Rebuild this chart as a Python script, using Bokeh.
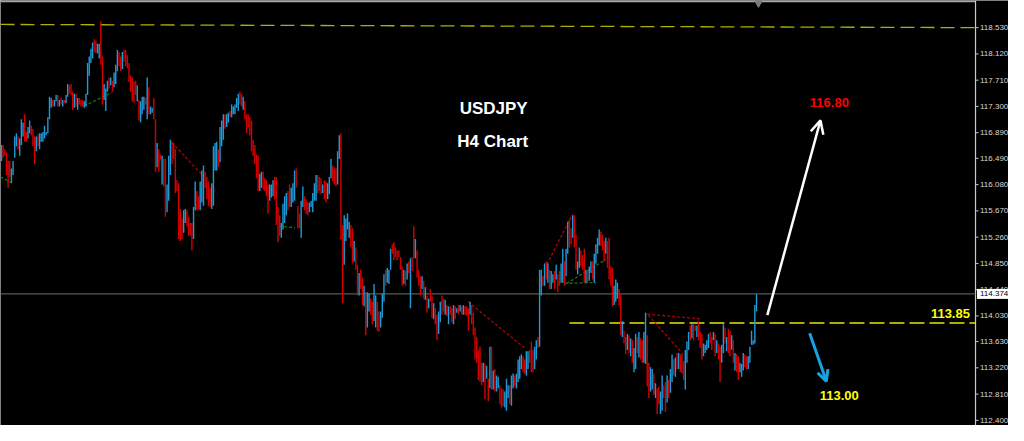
from bokeh.plotting import figure
from bokeh.models import Range1d, Label, Arrow, OpenHead, ColumnDataSource
from bokeh.core.properties import value
from bokeh.embed import file_html
from bokeh.resources import INLINE

# ---------------- data (USDJPY H4 bars: high / low / direction B=bull R=bear) -------------
high_a = [116.70,116.70,116.63,116.58,116.45,116.45,116.33,116.45,116.83,116.88,
          116.83,116.80,117.10,117.05,117.18,116.90,116.98,117.08,117.00,116.95,
          116.83,116.83,116.85,116.88,116.88,116.90,117.00,116.90,117.13,117.45,
          117.43,117.40,117.40,117.48,117.48,117.40,117.43,117.40,117.40,117.48,
          117.65,117.63,117.65,117.53,117.50,117.50,117.43,117.43,117.40,117.40,
          117.38,117.50,117.98,118.08,118.20,118.30,118.35,118.33,118.28,118.28,
          118.63,118.08,117.65,117.58,117.70,117.75,117.75,117.70,117.83,117.95,
          118.18,118.15,118.08,118.15,118.18,118.18,118.10,117.98,117.78,117.75,
          117.68,117.70,117.63,117.40,117.38,117.45,117.45,117.43,117.75,117.60,
          117.30,117.28,117.43,117.10,116.73,116.63,116.55,116.53,116.48,116.48,
          116.08,116.53,116.78,116.75,116.73,116.63,116.15,116.10,115.70,115.55,
          115.68,115.70,115.68,115.58,115.48,115.48,115.73,116.13,115.98,115.90]
low_a = [116.45,116.50,116.53,116.23,116.03,116.20,116.10,116.23,116.50,116.68,
         116.63,116.53,116.70,116.83,116.75,116.75,116.80,116.88,116.85,116.68,
         116.40,116.60,116.68,116.63,116.75,116.75,116.80,116.85,116.88,117.10,
         117.28,117.30,117.30,117.38,117.30,117.30,117.33,117.30,117.35,117.35,
         117.45,117.50,117.48,117.25,117.28,117.30,117.25,117.33,117.30,117.30,
         117.28,117.30,117.48,117.78,117.98,118.05,118.15,118.13,118.13,118.05,
         117.95,117.33,117.40,117.23,117.53,117.58,117.63,117.53,117.60,117.65,
         117.85,117.93,117.85,117.88,118.00,117.93,117.90,117.68,117.53,117.38,
         117.35,117.48,117.38,117.08,117.05,117.18,117.25,117.33,117.10,117.18,
         117.18,117.20,117.10,116.28,116.35,116.28,116.48,116.08,116.05,115.58,
         115.65,115.83,116.23,116.40,116.48,115.95,115.98,115.23,115.20,115.23,
         115.33,115.48,115.43,115.28,115.28,115.05,115.23,115.68,115.68,115.70]
dir_a = ("BRRRRRBBBB" "RBBBRRBBRR" "RBRBBBBBBB" "BRBBRBRBRB" "BRRRBRBRRR" "BBBBBBRRBB"
         "RRBBBRBRBB" "BRRBRRRRRR" "RRBRBBBRBR" "BBRRBRRBRR" "BBBRRRRRRR" "BBRRRRBBRR")

high_b = [116.13,116.30,116.38,116.28,116.20,116.13,116.03,116.10,116.68,116.73,
          116.75,116.63,116.98,117.08,117.18,117.18,117.18,117.20,117.23,117.33,
          117.30,117.33,117.43,117.50,117.53,117.50,117.45,117.38,117.18,117.18,
          117.13,117.08,116.78,116.70,116.55,116.53,116.25,116.28,116.28,116.18,
          116.15,116.08,116.08,116.08,116.15,116.20,116.20,115.73,115.60,115.48,
          115.78,115.90,115.95,115.98,116.08,116.03,116.10,116.30,116.33,115.75,
          115.63,115.83,116.05,115.90,115.85,115.80,115.80,115.83,115.95,116.10,
          116.23,116.23,116.20,116.18,116.08,116.15,116.13,116.10,116.20,116.48,
          116.38,116.35,116.33,116.60,116.85,116.88,115.45]
low_b = [115.68,115.80,115.75,116.03,115.85,115.75,115.73,115.70,115.75,116.30,
         116.30,116.35,116.43,116.68,116.78,116.95,116.98,117.05,117.13,117.13,
         117.18,117.18,117.28,117.23,117.33,117.30,117.25,117.10,116.88,116.98,
         116.85,116.60,116.53,116.40,116.18,115.98,115.98,116.03,116.00,115.98,
         115.90,115.63,115.83,115.88,115.90,115.85,115.45,115.18,115.28,115.25,
         115.38,115.48,115.60,115.68,115.73,115.73,115.80,115.83,116.03,115.40,
         115.40,115.25,115.73,115.68,115.62,115.60,115.65,115.73,115.65,115.83,
         115.83,115.95,115.98,115.93,115.95,115.85,115.80,115.85,115.93,116.18,
         116.13,116.08,116.05,116.08,116.48,115.23,114.23]
dir_b = ("BBBRRRRBBB" "BRBBBRBBRB" "BBBBRRBRRR" "RRRRRRBBRR" "RRBBBRRRRB" "BBBRRBBBRR"
         "RBBRRRBBBB" "BRRRBRRBBB" "RRRBBRR")

high_c = [115.60,115.55,115.63,115.50,115.45,115.40,115.20,115.10,114.83,114.70,
          114.75,114.63,114.50,114.40,114.40,114.38,114.30,114.25,114.53,114.35,
          114.25,114.10,114.10,114.38,114.68,114.75,114.78,114.75,115.08,115.15,
          115.18,115.10,115.05,115.05,114.95,114.80,114.75,114.73,114.85,114.88,
          114.93,114.95,115.43,115.23,115.05,114.75,114.65,114.65,114.58,114.48,
          114.35,114.30,114.45,114.35,114.23,114.15,114.05,114.10,114.25,114.35,
          114.30,114.28,114.20,114.18,114.18,114.15,114.20,114.18,114.15,114.20,
          114.20,114.18,114.20,114.18,114.18,114.15,114.25,114.20,114.08,113.85,
          113.70,113.50,113.55,113.30,113.30,113.28,113.25,113.05,113.55,113.55,
          113.18,113.20,113.10,113.08,112.95,112.90,112.88,112.85,113.05,112.95,
          112.95,113.10,113.13,113.10,113.13,113.35,113.40,113.43,113.40,113.35,
          113.48,113.48,113.50,113.63,113.50,113.55]
low_c = [114.83,115.20,115.38,115.25,115.10,114.85,114.88,114.75,114.35,114.35,
         114.45,114.20,114.18,113.73,113.85,114.10,114.05,113.90,113.95,113.85,
         113.80,113.78,113.85,114.00,114.25,114.50,114.55,114.53,114.75,115.00,
         114.90,114.95,114.90,114.95,114.75,114.50,114.53,114.50,114.60,114.70,
         114.15,114.73,114.93,114.93,114.63,114.50,114.35,114.45,114.30,114.28,
         114.08,114.15,114.25,114.00,113.98,113.90,113.65,113.75,113.93,114.05,
         114.10,114.05,114.03,113.90,114.05,113.93,113.90,113.98,114.08,114.05,
         114.10,114.05,114.05,114.05,114.03,113.80,114.05,113.90,113.73,113.35,
         113.30,113.03,113.00,112.95,113.00,112.73,113.05,112.70,112.90,112.88,
         112.88,112.85,112.85,112.90,112.65,112.60,112.62,112.60,112.55,112.75,
         112.65,112.63,112.90,112.93,112.90,113.00,113.05,113.20,113.15,113.13,
         113.10,113.20,113.30,113.15,113.15,113.20]
dir_c = ("BBBBRRBRRB" "RRBRBBRRBB" "RRBBBRBBBR" "RRRRRRBRBR" "BRRBRRRBRB" "RBRRBRRBBR"
         "RBRBRRBRBR" "BRBRRRBRRR" "RRRRBRBRBR" "BRBBRRRBBB" "RBBRBBBBRR" "BBRRRB")

high_d = [113.65,113.70,114.75,114.75,114.65,114.85,114.88,114.85,114.75,114.73,
          114.68,114.73,114.83,114.68,114.73,114.85,115.08,114.88,115.08,115.50,
          115.53,115.40,115.60,115.60,115.30]
low_d = [113.35,113.53,113.55,114.35,114.50,114.50,114.60,114.55,114.45,114.45,
         114.55,114.45,114.60,114.40,114.50,114.55,114.55,114.50,114.65,115.00,
         115.10,115.15,115.25,115.10,114.75]
dir_d = "BRBBRBRBRB" "BRBRRBBRBB" "RRBRR"

high_e = [114.88,115.10,115.05,114.98,115.08,114.75,114.75,114.80,114.88,114.88,
          115.00,115.15,115.25,115.38,115.35,115.30,115.20,115.25,115.20,115.25,
          114.80,114.78,114.50,114.60,114.55,114.45,114.38,113.95,113.80,113.70,
          113.75,113.73,113.68,113.65,113.53,
          113.75,113.70,113.78,113.68,113.65,113.78,114.08,113.73,113.30,113.23,
          113.20,113.13,112.98,112.90,112.93,112.85,113.10,112.95,113.00,113.10,
          113.03,113.20,113.43,113.35,113.38,113.45,113.45,113.43,113.45,113.33,
          113.50,113.63,113.78,113.88,113.90,113.90,113.88,113.88,113.95,113.78,
          113.75,113.60,113.58,113.65,113.75,113.78,113.70,113.78,113.75,113.65,
          113.60,113.55,113.58,113.90,113.85,113.70,113.83,113.80,113.73,113.65,
          113.45,113.43,113.40,113.30,113.28,113.45,113.43,113.40,113.40,113.55,
          113.80,113.65,114.20,114.37]
low_e = [114.68,114.78,114.80,114.75,114.55,114.55,114.55,114.58,114.70,114.60,
         114.55,114.85,115.00,115.13,115.12,115.05,114.88,115.00,114.78,114.60,
         114.50,114.18,114.20,114.25,114.30,114.20,113.73,113.70,113.60,113.43,
         113.50,113.45,113.40,113.30,113.15,
         113.20,113.45,113.38,113.35,113.30,113.30,113.28,112.93,112.75,112.85,
         112.88,112.80,112.75,112.50,112.65,112.50,112.55,112.75,112.53,112.68,
         112.75,112.83,113.00,113.10,113.08,113.20,113.20,113.15,113.13,113.03,
         112.88,113.30,113.50,113.65,113.68,113.65,113.80,113.70,113.65,113.53,
         113.35,113.40,113.45,113.50,113.53,113.60,113.50,113.65,113.40,113.45,
         113.35,113.00,113.30,113.45,113.60,113.48,113.45,113.40,113.50,113.30,
         113.18,113.15,113.03,113.15,113.08,113.18,113.23,113.20,113.20,113.30,
         113.58,113.58,113.60,114.10]
dir_e = ("BBRRRBRBBR" "BBBBRRRBRR" "RRBBBRRBRR" "BRB" "RB"
         "BRBRRBBRRB" "BRBRRBBRRB" "RBBRBRBRRR" "BBBRBRRBRR" "RBBBBRRBRB" "RRBBRBRRBR"
         "BRRBBBRRBB" "BBBB")

price_ticks = [118.530, 118.120, 117.710, 117.300, 116.890, 116.490, 116.080, 115.670,
               115.260, 114.850, 114.440, 114.030, 113.630, 113.220, 112.810, 112.400]
last_price = 114.374
resistance_top = [118.58, 118.53]   # olive dashed line, left/right end
support_level = 113.92              # yellow dashed line
label_support = "113.85"
target_up = "116.80"
target_down = "113.00"
title_1 = "USDJPY"
title_2 = "H4 Chart"

high = high_a + high_b + high_c + high_d + high_e
low = low_a + low_b + low_c + low_d + low_e
dirs = dir_a + dir_b + dir_c + dir_d + dir_e
assert len(high) == len(low) == len(dirs), (len(high), len(low), len(dirs))
N = len(high)

BULL = "#1e9ad6"
BEAR = "#d40000"
AXIS_COL = "#c8c8c8"
LABEL_COL = "#d8d8d8"

# ---------------- layout helpers (reference pixels -> data) ----------------
REF_W = 1024.0            # whole reference width (chart + price scale)
CHART_R = 990.5           # right border of the chart area in reference pixels
PX_PER_PRICE = 409.4 / 6.13
Y_TOP = 118.530 + 28.3 / PX_PER_PRICE
Y_BOT = 112.32
px_per_bar = 767.0 / (N - 1)
XS = -1.0 / px_per_bar
XE = XS + REF_W / px_per_bar


def sx(px):
    return XS + px / px_per_bar


def sy(py):
    return Y_TOP - py / PX_PER_PRICE


p = figure(width=1008, height=425, output_backend="svg", toolbar_location=None,
           x_range=Range1d(XS, XE), y_range=Range1d(Y_BOT, Y_TOP),
           background_fill_color="black", border_fill_color="black",
           min_border_left=0, min_border_right=0, min_border_top=0, min_border_bottom=0)
p.axis.visible = False
p.grid.visible = False
p.outline_line_color = None

# chart border (top and right) and the price scale
p.line([sx(0), sx(CHART_R)], [sy(1), sy(1)], line_color="#a8a8a8", line_width=1.5)
p.line([sx(CHART_R), sx(CHART_R)], [Y_BOT, Y_TOP], line_color=AXIS_COL, line_width=1.2)
p.segment(x0=[sx(CHART_R)] * len(price_ticks), x1=[sx(CHART_R + 3)] * len(price_ticks),
          y0=price_ticks, y1=price_ticks, line_color=AXIS_COL, line_width=1)
p.text(x=[sx(CHART_R + 4.5)] * len(price_ticks), y=price_ticks,
       text=[f"{t:.3f}" for t in price_ticks], text_baseline="middle", text_align="left",
       text_color=LABEL_COL, text_font=value("Liberation Sans"), text_font_size="8px")

# levels
p.line([sx(0), sx(CHART_R)], resistance_top, line_color="#b0b000", line_width=1.3,
       line_dash="14 6")
p.line([sx(578), sx(CHART_R)], [support_level, support_level], line_color="#e6e600",
       line_width=1.3, line_dash="15 5")
p.line([sx(0), sx(CHART_R)], [last_price, last_price], line_color="#6e6e6e", line_width=1)

# current price box on the price scale
p.rect(x=[(sx(CHART_R + 1.5) + XE) / 2], y=[last_price], width=XE - sx(CHART_R + 1.5),
       height=10, height_units="screen", fill_color="white", line_color=None)
p.text(x=[sx(CHART_R + 4.5)], y=[last_price], text=[f"{last_price:.3f}"],
       text_baseline="middle", text_align="left", text_color="black",
       text_font=value("Liberation Sans"), text_font_size="8px")

# pattern (zig-zag) helper lines, in reference pixel coordinates
green_lines = [((0, 184), (11, 190)), ((85, 110), (113, 96)), ((283, 235), (299, 237)),
               ((573, 295), (605, 294)), ((575, 295), (615, 270))]
red_lines = [((174, 148), (206, 183)), ((475, 314), (532, 362)), ((555, 275), (581, 223)),
             ((657, 327), (712, 332)), ((658, 328), (692, 367))]
for (a, b) in green_lines:
    p.line([sx(a[0]), sx(b[0])], [sy(a[1]), sy(b[1])], line_color="#0a7a0a",
           line_width=1.3, line_dash="3 2")
for (a, b) in red_lines:
    p.line([sx(a[0]), sx(b[0])], [sy(a[1]), sy(b[1])], line_color="#b00000",
           line_width=1.3, line_dash="3 2")

# candles
src = ColumnDataSource(dict(x=list(range(N)), high=high, low=low,
                            color=[BULL if d == "B" else BEAR for d in dirs]))
p.vbar(x="x", top="high", bottom="low", width=0.85, fill_color="color",
       line_color=None, source=src)

# chart-shift marker
p.scatter(x=[sx(770)], y=[sy(3)], marker="inverted_triangle", size=7, color="#7a7a7a")


# titles and targets
def add_label(px, py, text, color, size, font="Liberation Sans"):
    p.add_layout(Label(x=sx(px), y=sy(py), text=text, text_align="center",
                       text_baseline="middle", text_color=color, text_font=font,
                       text_font_style="bold", text_font_size=size))


add_label(501, 113, title_1, "white", "17px")
add_label(500, 147, title_2, "white", "17px")
add_label(842, 106, target_up, "#ff0000", "13px")
add_label(852, 412, target_down, "#ffff00", "13px")
add_label(965, 326, label_support, "#ffff00", "13px")

# arrows
p.add_layout(Arrow(end=OpenHead(size=13, line_color="white", line_width=2.5),
                   x_start=sx(779), y_start=sy(328), x_end=sx(833), y_end=sy(125),
                   line_color="white", line_width=2.5))
p.add_layout(Arrow(end=OpenHead(size=11, line_color="#1ba1e2", line_width=3),
                   x_start=sx(822), y_start=sy(347), x_end=sx(839), y_end=sy(397),
                   line_color="#1ba1e2", line_width=3))

open("out.html", "w").write(file_html(p, INLINE))
